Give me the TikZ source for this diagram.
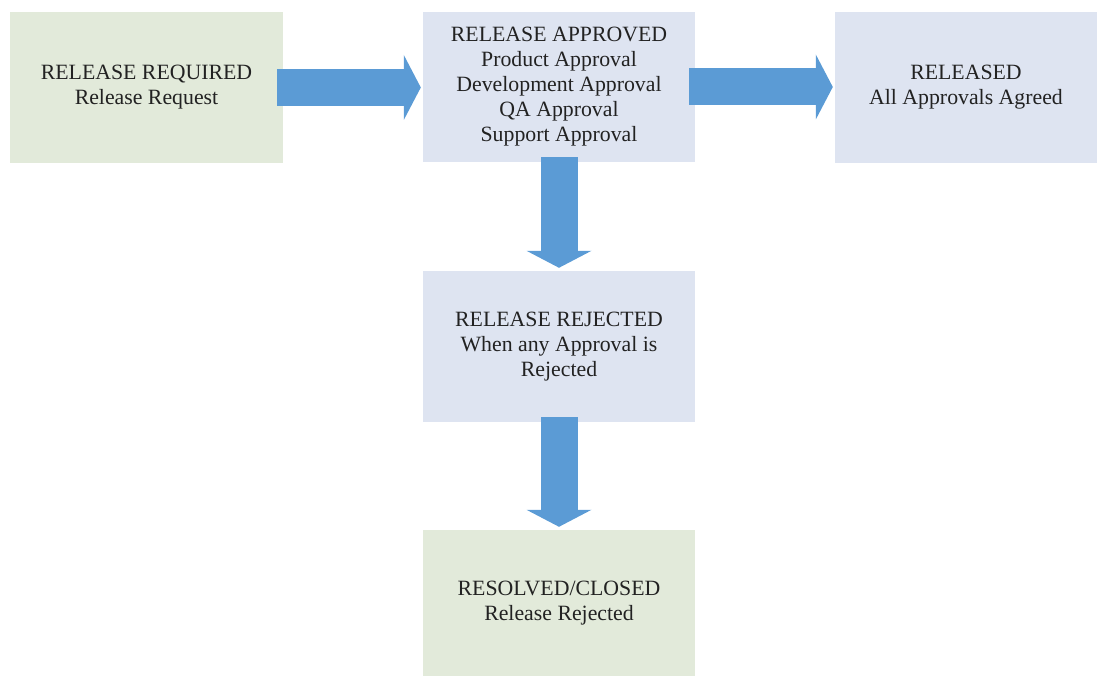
\documentclass[tikz,border=0pt]{standalone}
\usepackage{fontspec}
\setmainfont{Liberation Serif}
\usetikzlibrary{arrows.meta,positioning}
\definecolor{stategreen}{HTML}{E2EADA}
\definecolor{stateblue}{HTML}{DEE4F1}
\definecolor{flowblue}{HTML}{5B9BD5}
\definecolor{inktext}{HTML}{222222}
\tikzset{
  % State boxes
  stgreen/.style={draw=none,fill=stategreen,minimum width=273pt,minimum height=151pt,
                  align=center,inner sep=0pt,text=inktext,font=\fontsize{21.8}{25}\selectfont},
  stblue/.style={draw=none,fill=stateblue,minimum width=272pt,minimum height=151pt,
                 align=center,inner sep=0pt,text=inktext,font=\fontsize{21.8}{25}\selectfont},
  % Block arrows between states
  flow/.style={draw=flowblue,line width=37pt,
               -{Triangle[length=17pt,width=65pt,line width=0pt]}}
}

\begin{document}
\begin{tikzpicture}[x=1pt,y=1pt]
  \useasboundingbox (0,0) rectangle (1097,676);

  % States
  \node[stgreen] (req)    at (146.5,588.5) {RELEASE REQUIRED\\Release Request};
  \node[stblue,minimum height=150pt] (appr) at (559,589)
    {RELEASE APPROVED\\Product Approval\\Development Approval\\QA Approval\\Support Approval};
  \node[stblue,minimum width=262pt] (rel) at (966,588.5) {RELEASED\\All Approvals Agreed};
  \node[stblue]  (rej)    at (559,329.5) {RELEASE REJECTED\\When any Approval is\\Rejected};
  \node[stgreen,minimum width=272pt,minimum height=146pt] (closed) at (559,73)
    {RESOLVED/CLOSED\\Release Rejected};

  % Transitions
  \draw[flow] ([xshift=-6pt]req.east)  -- ([xshift=-2pt]req.east -| appr.west);
  \draw[flow] ([xshift=-6pt]appr.east) -- ([xshift=-2pt]appr.east -| rel.west);
  \draw[flow] ([yshift=5pt]appr.south) -- ([yshift=3pt]rej.north);
  \draw[flow] ([yshift=5pt]rej.south)  -- ([yshift=3pt]closed.north);
\end{tikzpicture}
\end{document}
